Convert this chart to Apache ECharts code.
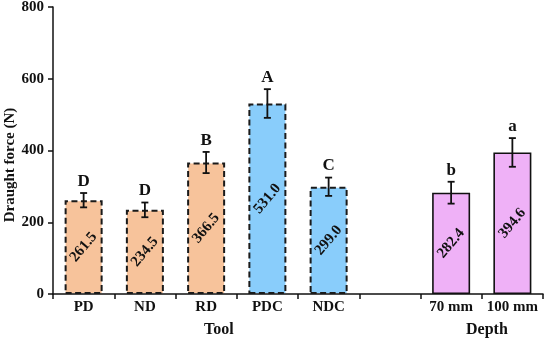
<!DOCTYPE html>
<html>
<head>
<meta charset="utf-8">
<script src="https://cdn.jsdelivr.net/npm/echarts@6/dist/echarts.min.js"></script>
<style>html,body{margin:0;padding:0;background:#fff}#c{width:550px;height:345px}</style>
</head>
<body>
<div id="c"></div>
<script>
const categories = ['PD', 'ND', 'RD', 'PDC', 'NDC', '', '70 mm', '100 mm'];
const values = [261.5, 234.5, 366.5, 531.0, 299.0, null, 282.4, 394.6];
const errors = [20, 20.5, 29.5, 40, 25.5, null, 30.5, 40];
const letters = ['D', 'D', 'B', 'A', 'C', '', 'b', 'a'];
const groups = ['tool1', 'tool1', 'tool1', 'tool2', 'tool2', null, 'depth', 'depth'];
const yTicks = [0, 200, 400, 600, 800];
const axisTitleX = 'Tool';
const axisTitleDepth = 'Depth';
const yTitle = 'Draught force (N)';

const FONT = '"Liberation Serif", "Times New Roman", serif';
const styleMap = {
  tool1: { color: '#F7C39B', borderColor: '#1a1a1a', borderWidth: 2, borderType: [6, 3.5] },
  tool2: { color: '#89CDFB', borderColor: '#1a1a1a', borderWidth: 2, borderType: [6, 3.5] },
  depth: { color: '#EFB1F7', borderColor: '#111', borderWidth: 1.6, borderType: 'solid' }
};

const barData = values.map((v, i) => v == null ? '-' : { value: v, itemStyle: styleMap[groups[i]] });
const errData = values.map((v, i) => v == null ? null : [i, v, errors[i]]).filter(d => d);

const chart = echarts.init(document.getElementById('c'), null, { renderer: 'canvas' });
chart.setOption({
  animation: false,
  backgroundColor: '#fff',
  grid: { left: 53, right: 7, top: 7, bottom: 51, containLabel: false, outerBoundsMode: 'none' },
  xAxis: {
    type: 'category',
    data: categories,
    boundaryGap: true,
    axisLine: { lineStyle: { color: '#111', width: 1.5 } },
    axisTick: { show: true, length: 5, lineStyle: { color: '#111', width: 1.5 } },
    axisLabel: { color: '#111', fontFamily: FONT, fontWeight: 'bold', fontSize: 15, margin: 6, interval: 0 }
  },
  yAxis: {
    type: 'value',
    min: yTicks[0],
    max: yTicks[yTicks.length - 1],
    interval: yTicks[1] - yTicks[0],
    axisLine: { show: true, lineStyle: { color: '#111', width: 1.5 } },
    axisTick: { show: true, length: 5, lineStyle: { color: '#111', width: 1.5 } },
    splitLine: { show: false },
    axisLabel: { color: '#111', fontFamily: FONT, fontWeight: 'bold', fontSize: 15, margin: 9 }
  },
  graphic: [
    { type: 'text', x: 10, y: 165, rotation: Math.PI / 2, style: { text: yTitle, fill: '#111', font: 'bold 15px ' + FONT, align: 'center', verticalAlign: 'middle' } },
    { type: 'text', left: 221 - 17, top: 322, style: { text: axisTitleX, fill: '#111', font: 'bold 16px ' + FONT } },
    { type: 'text', left: 487 - 21, top: 322, style: { text: axisTitleDepth, fill: '#111', font: 'bold 16px ' + FONT } }
  ],
  series: [
    {
      type: 'bar',
      data: barData,
      barWidth: 38,
      label: {
        show: true,
        position: 'inside',
        rotate: 50,
        color: '#111',
        fontFamily: FONT,
        fontWeight: 'bold',
        fontSize: 15,
        formatter: p => Number(p.value).toFixed(1)
      }
    },
    {
      type: 'custom',
      data: errData,
      z: 5,
      renderItem: function (params, api) {
        const idx = api.value(0), v = api.value(1), e = api.value(2);
        const top = api.coord([idx, v + e]);
        const bot = api.coord([idx, v - e]);
        const hw = 3.5;
        const st = { stroke: '#111', lineWidth: 1.8 };
        return {
          type: 'group',
          children: [
            { type: 'line', shape: { x1: top[0], y1: top[1], x2: bot[0], y2: bot[1] }, style: st },
            { type: 'line', shape: { x1: top[0] - hw, y1: top[1], x2: top[0] + hw, y2: top[1] }, style: st },
            { type: 'line', shape: { x1: bot[0] - hw, y1: bot[1], x2: bot[0] + hw, y2: bot[1] }, style: st },
            { type: 'text', x: top[0], y: top[1] - 3, style: { text: letters[idx], fill: '#111', font: 'bold 17px ' + FONT, align: 'center', verticalAlign: 'bottom' } }
          ]
        };
      }
    }
  ]
});
</script>
</body>
</html>
